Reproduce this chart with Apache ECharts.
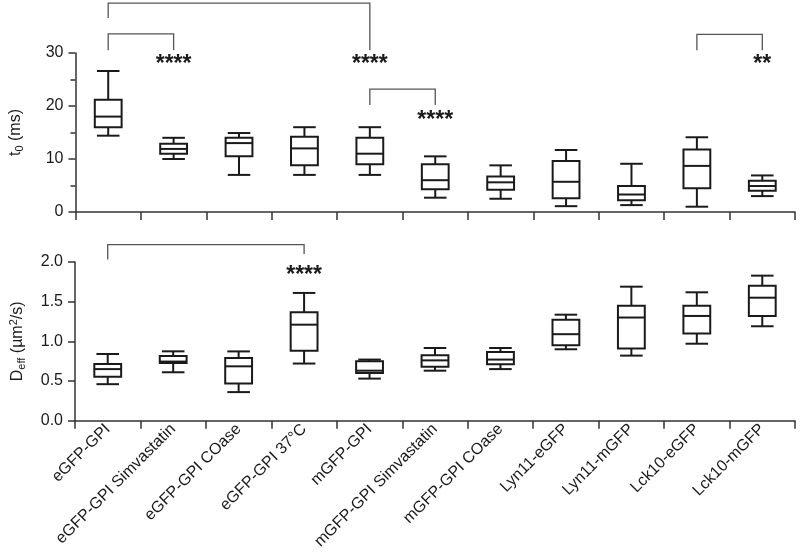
<!DOCTYPE html>
<html><head><meta charset="utf-8">
<script src="https://cdn.jsdelivr.net/npm/echarts@6/dist/echarts.min.js"></script>
<style>html,body{margin:0;padding:0;background:#fff}#c{width:800px;height:552px}</style>
</head><body><div id="c"></div>
<script>
const categories = ['eGFP-GPI','eGFP-GPI Simvastatin','eGFP-GPI COase','eGFP-GPI 37°C','mGFP-GPI','mGFP-GPI Simvastatin','mGFP-GPI COase','Lyn11-eGFP','Lyn11-mGFP','Lck10-eGFP','Lck10-mGFP'];

// t0 (ms) box statistics
const t0Low    = [14.4, 10.0,  7.0,  7.0,  7.0,  2.7, 2.5,  1.1, 1.3,  1.0, 3.0];
const t0Q1     = [16.0, 11.0, 10.5,  8.8,  9.0,  4.3, 4.2,  2.6, 2.2,  4.5, 4.0];
const t0Median = [18.0, 11.9, 13.0, 12.0, 11.0,  6.0, 5.6,  5.7, 3.3,  8.7, 4.9];
const t0Q3     = [21.2, 12.9, 14.0, 14.2, 14.0,  9.0, 6.7,  9.6, 4.9, 11.8, 5.9];
const t0High   = [26.6, 14.0, 14.9, 16.0, 16.0, 10.5, 8.8, 11.7, 9.1, 14.1, 6.9];

// Deff (um^2/s) box statistics
const dLow    = [0.46, 0.61, 0.36, 0.72, 0.53, 0.63, 0.65, 0.90, 0.82, 0.97, 1.19];
const dQ1     = [0.555,0.727,0.47, 0.88, 0.60, 0.68, 0.71, 0.95, 0.91, 1.10, 1.32];
const dMedian = [0.65, 0.745,0.685,1.21, 0.63, 0.76, 0.77, 1.09, 1.30, 1.32, 1.55];
const dQ3     = [0.714,0.815,0.79, 1.366,0.75, 0.824,0.866,1.273,1.45, 1.45, 1.70];
const dHigh   = [0.84, 0.874,0.873,1.61, 0.77, 0.916,0.916,1.336,1.689,1.618,1.828];

// tick labels
const t0Ticks = [0, 10, 20, 30];
const dTicks = ['0.0', '0.5', '1.0', '1.5', '2.0'];

// significance brackets (category indices, heights in data units)
const t0Sig = [
  {from: 0, to: 4, top: 39.4, leftEnd: 36.6, rightEnd: 30.5, textAt: 28.2, stars: '****'},
  {from: 0, to: 1, top: 33.6, leftEnd: 30.5, rightEnd: 30.5, textAt: 28.2, stars: '****'},
  {from: 4, to: 5, top: 23.2, leftEnd: 20.2, rightEnd: 20.2, textAt: 17.7, stars: '****'},
  {from: 9, to: 10, top: 33.5, leftEnd: 30.5, rightEnd: 30.5, textAt: 28.2, stars: '**'}
];
const dSig = [
  {from: 0, to: 3, top: 2.218, leftEnd: 2.03, rightEnd: 2.10, textAt: 1.85, stars: '****'}
];

const FONT = 'Liberation Sans, Arial, Helvetica, sans-serif';
const INK = '#1a1a1a';

function boxData(lo, q1, md, q3, hi) {
  return categories.map((c, i) => [i, lo[i], q1[i], md[i], q3[i], hi[i]]);
}

function renderBox(params, api) {
  const i = api.value(0);
  const p = [1, 2, 3, 4, 5].map(k => api.coord([i, api.value(k)]));
  const cx = p[0][0];
  const band = api.size([1, 0])[0];
  const bw = band * 0.41, cw = band * 0.345;
  const st = {stroke: INK, lineWidth: 2, fill: 'none'};
  return {type: 'group', children: [
    {type: 'line', shape: {x1: cx, y1: p[0][1], x2: cx, y2: p[1][1]}, style: st},
    {type: 'line', shape: {x1: cx, y1: p[3][1], x2: cx, y2: p[4][1]}, style: st},
    {type: 'line', shape: {x1: cx - cw / 2, y1: p[0][1], x2: cx + cw / 2, y2: p[0][1]}, style: st},
    {type: 'line', shape: {x1: cx - cw / 2, y1: p[4][1], x2: cx + cw / 2, y2: p[4][1]}, style: st},
    {type: 'rect', shape: {x: cx - bw / 2, y: p[3][1], width: bw, height: p[1][1] - p[3][1]}, style: st},
    {type: 'line', shape: {x1: cx - bw / 2, y1: p[2][1], x2: cx + bw / 2, y2: p[2][1]}, style: st}
  ]};
}

function renderBracket(list) {
  return function (params, api) {
    const b = list[params.dataIndex];
    const a1 = api.coord([b.from, b.leftEnd]);
    const a2 = api.coord([b.from, b.top]);
    const b2 = api.coord([b.to, b.top]);
    const b1 = api.coord([b.to, b.rightEnd]);
    const t = api.coord([b.to, b.textAt]);
    return {type: 'group', children: [
      {type: 'polyline', shape: {points: [a1, a2, b2, b1]}, style: {stroke: '#555', lineWidth: 1.3, fill: 'none'}},
      {type: 'text', x: t[0], y: t[1] + 2, style: {text: b.stars, fill: INK, font: 'bold 23px ' + FONT, align: 'center', verticalAlign: 'middle'}}
    ]};
  };
}

const axisLine = {show: true, lineStyle: {color: '#333', width: 1.5}};
const axisTick = {show: true, lineStyle: {color: '#333', width: 1.5}};

const chart = echarts.init(document.getElementById('c'), null, {renderer: 'canvas'});
chart.setOption({
  animation: false,
  backgroundColor: '#fff',
  grid: [
    {left: 74, right: 5, top: 53, height: 159},
    {left: 74, right: 5, top: 262, height: 159}
  ],
  xAxis: [
    {type: 'category', gridIndex: 0, data: categories, boundaryGap: true,
     axisLine, axisTick: {...axisTick, length: 8, interval: 0}, axisLabel: {show: false}, splitLine: {show: false}},
    {type: 'category', gridIndex: 1, data: categories, boundaryGap: true,
     axisLine, axisTick: {...axisTick, length: 8, interval: 0},
     axisLabel: {interval: 0, rotate: 45, margin: 6, fontSize: 16, fontFamily: FONT, color: INK},
     splitLine: {show: false}}
  ],
  yAxis: [
    {type: 'value', gridIndex: 0, min: t0Ticks[0], max: t0Ticks[t0Ticks.length - 1], interval: t0Ticks[1] - t0Ticks[0],
     axisLine, axisTick: {...axisTick, length: 7},
     minorTick: {show: true, splitNumber: 2, length: 5, lineStyle: {color: '#333', width: 1.5}},
     axisLabel: {fontSize: 16, fontFamily: FONT, color: INK, margin: 12},
     splitLine: {show: false},
     name: '{a|t}{s|0}{a| (ms)}', nameLocation: 'middle', nameGap: 50,
     nameTextStyle: {rich: {
       a: {fontSize: 16, fontFamily: FONT, color: INK, lineHeight: 19},
       s: {fontSize: 11, fontFamily: FONT, color: INK, lineHeight: 11, verticalAlign: 'bottom'}
     }}},
    {type: 'value', gridIndex: 1, min: Number(dTicks[0]), max: Number(dTicks[dTicks.length - 1]), interval: Number(dTicks[1]) - Number(dTicks[0]),
     axisLine, axisTick: {...axisTick, length: 7},
     axisLabel: {fontSize: 16, fontFamily: FONT, color: INK, margin: 12, formatter: v => dTicks[Math.round(v / 0.5)]},
     splitLine: {show: false},
     name: '{a|D}{s|eff}{a| (µm}{p|2}{a|/s)}', nameLocation: 'middle', nameGap: 48,
     nameTextStyle: {rich: {
       a: {fontSize: 16, fontFamily: FONT, color: INK, lineHeight: 19},
       s: {fontSize: 11, fontFamily: FONT, color: INK, lineHeight: 11, verticalAlign: 'bottom'},
       p: {fontSize: 11, fontFamily: FONT, color: INK, lineHeight: 11, verticalAlign: 'top'}
     }}}
  ],
  series: [
    {type: 'custom', name: 't0', xAxisIndex: 0, yAxisIndex: 0, data: boxData(t0Low, t0Q1, t0Median, t0Q3, t0High),
     encode: {x: 0, y: [1, 2, 3, 4, 5]}, renderItem: renderBox, clip: false, silent: true},
    {type: 'custom', name: 'Deff', xAxisIndex: 1, yAxisIndex: 1, data: boxData(dLow, dQ1, dMedian, dQ3, dHigh),
     encode: {x: 0, y: [1, 2, 3, 4, 5]}, renderItem: renderBox, clip: false, silent: true},
    {type: 'custom', name: 't0 sig', xAxisIndex: 0, yAxisIndex: 0, data: t0Sig.map(b => [b.from, b.top]),
     renderItem: renderBracket(t0Sig), clip: false, silent: true},
    {type: 'custom', name: 'Deff sig', xAxisIndex: 1, yAxisIndex: 1, data: dSig.map(b => [b.from, b.top]),
     renderItem: renderBracket(dSig), clip: false, silent: true}
  ]
});
</script>
</body></html>
